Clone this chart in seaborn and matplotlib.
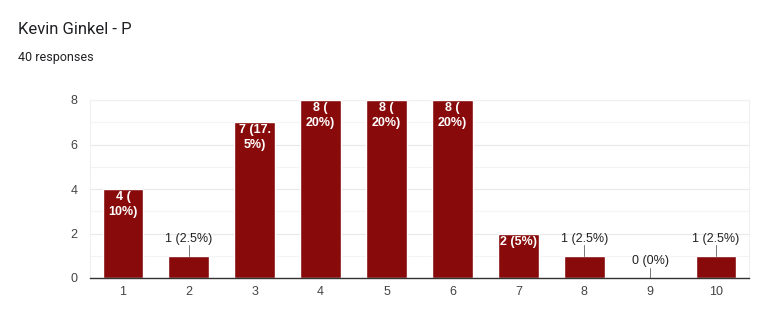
import matplotlib
matplotlib.use("Agg")
import matplotlib.pyplot as plt
import seaborn as sns
import pandas as pd

categories = ["1", "2", "3", "4", "5", "6", "7", "8", "9", "10"]
counts = [4, 1, 7, 8, 8, 8, 2, 1, 0, 1]
labels = ["4 (\n10%)", "1 (2.5%)", "7 (17.\n5%)", "8 (\n20%)", "8 (\n20%)", "8 (\n20%)",
          "2 (5%)", "1 (2.5%)", "0 (0%)", "1 (2.5%)"]
yticks = [0, 2, 4, 6, 8]
minor_ticks = [1, 3, 5, 7]

sns.set_theme(style="white")
plt.rcParams['font.family'] = ['Liberation Sans', 'DejaVu Sans']

df = pd.DataFrame({"cat": categories, "count": counts})

fig = plt.figure(figsize=(7.59, 3.19), dpi=100)
ax = fig.add_axes([90/759, 1-278/319, 659/759, 178/319])

bar_color = "#880a0a"
sns.barplot(data=df, x="cat", y="count", color=bar_color, saturation=1,
            width=0.62, ax=ax, zorder=3)

ax.set_xlim(-0.5, 9.5)
ax.set_ylim(0, 8)
ax.set_yticks(yticks)
ax.set_yticks(minor_ticks, minor=True)
ax.grid(True, axis="y", which="major", color="#e8e8e8", lw=0.8, zorder=0)
ax.grid(True, axis="y", which="minor", color="#f4f4f4", lw=0.8, zorder=0)
ax.set_axisbelow(True)
ax.set_xlabel("")
ax.set_ylabel("")
for s in ["left", "right", "top"]:
    ax.spines[s].set_color("#f0f0f0")
    ax.spines[s].set_linewidth(0.8)
ax.spines["bottom"].set_color("#333333")
ax.spines["bottom"].set_linewidth(1.0)
ax.spines["bottom"].set_zorder(5)
ax.tick_params(axis="both", which="both", length=0, labelsize=9, colors="#444444")
ax.tick_params(axis="x", pad=6)
ax.tick_params(axis="y", pad=9)

for i, (c, lab) in enumerate(zip(counts, labels)):
    if c >= 2:
        ax.text(i, c - 0.1, lab, ha="center", va="top", color="white",
                fontsize=9, fontweight="bold", linespacing=1.3, zorder=6)
    else:
        ax.plot([i, i], [c, c + 0.47], color="#777777", lw=0.7, zorder=4)
        ax.text(i, c + 0.5, lab, ha="center", va="bottom", color="#222222",
                fontsize=9, zorder=6)

fig.text(18/759, 1-30/319, "Kevin Ginkel - P", fontsize=12, color="#202124",
         ha="left", va="center", family=["Roboto", "DejaVu Sans"])
fig.text(18/759, 1-57/319, "40 responses", fontsize=9, color="#202124",
         ha="left", va="center", family=["Roboto", "DejaVu Sans"])

fig.savefig("out.png", dpi=100)
